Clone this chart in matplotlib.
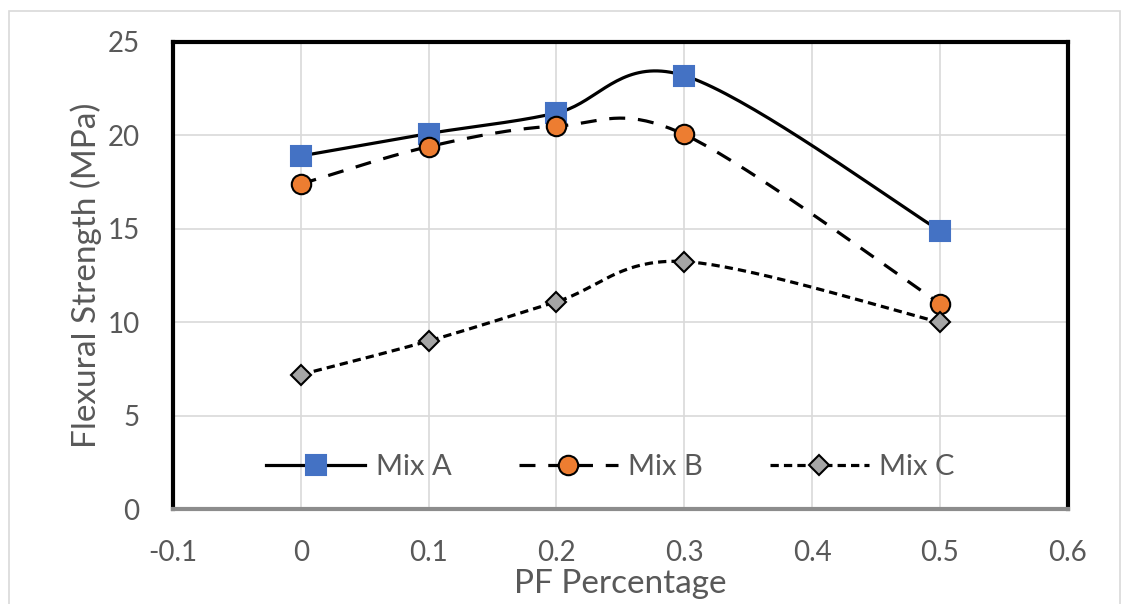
import numpy as np
import matplotlib.pyplot as plt
from matplotlib.patches import Rectangle

# data
pf = [0, 0.1, 0.2, 0.3, 0.5]
mix_a = [18.9, 20.1, 21.2, 23.2, 14.9]
mix_b = [17.4, 19.4, 20.5, 20.05, 11.0]
mix_c = [7.2, 9.0, 11.1, 13.25, 10.0]

x_ticks = [-0.1, 0, 0.1, 0.2, 0.3, 0.4, 0.5, 0.6]
x_tick_labels = ["-0.1", "0", "0.1", "0.2", "0.3", "0.4", "0.5", "0.6"]
y_ticks = [0, 5, 10, 15, 20, 25]

GREY = "#595959"
plt.rcParams['font.family'] = ['Lato', 'DejaVu Sans']


def smooth(x, y, n=40):
    # excel style smoothed line: catmull-rom as bezier segments
    x = np.asarray(x, float)
    y = np.asarray(y, float)
    px = np.concatenate([[x[0]], x, [x[-1]]])
    py = np.concatenate([[y[0]], y, [y[-1]]])
    xs, ys = [], []
    t = np.linspace(0, 1, n)
    for i in range(1, len(px) - 2):
        p0 = np.array([px[i], py[i]])
        p3 = np.array([px[i + 1], py[i + 1]])
        p1 = p0 + (np.array([px[i + 1], py[i + 1]]) - np.array([px[i - 1], py[i - 1]])) / 6
        p2 = p3 - (np.array([px[i + 2], py[i + 2]]) - np.array([px[i], py[i]])) / 6
        b = ((1 - t) ** 3)[:, None] * p0 + (3 * (1 - t) ** 2 * t)[:, None] * p1 \
            + (3 * (1 - t) * t ** 2)[:, None] * p2 + (t ** 3)[:, None] * p3
        xs.extend(b[:, 0])
        ys.extend(b[:, 1])
    return xs, ys


fig = plt.figure(figsize=(11.3, 6.04), dpi=100)
ax = fig.add_axes([0.153, 0.157, 0.792, 0.7735])

series = [
    ("Mix A", mix_a, '-', 's', "#4472C4", "#4472C4", 15),
    ("Mix B", mix_b, (0, (5, 4)), 'o', "#ED7D31", "black", 14),
    ("Mix C", mix_c, (0, (2.6, 1.6)), 'D', "#A5A5A5", "black", 10),
]
for name, vals, ls, mk, fc, ec, ms in series:
    sx, sy = smooth(pf, vals)
    ax.plot(sx, sy, color="black", lw=2.3, linestyle=ls, zorder=3)
    ax.plot(pf, vals, linestyle='none', marker=mk, markersize=ms,
            markerfacecolor=fc, markeredgecolor=ec, markeredgewidth=1.5, zorder=4)
    ax.plot([], [], color="black", lw=2.3, linestyle=ls, marker=mk, markersize=ms,
            markerfacecolor=fc, markeredgecolor=ec, markeredgewidth=1.5, label=name)

ax.set_xlim(-0.1, 0.6)
ax.set_ylim(0, 25)
ax.set_xticks(x_ticks)
ax.set_xticklabels(x_tick_labels)
ax.set_yticks(y_ticks)
ax.grid(True, color="#d9d9d9", lw=1.2)
ax.set_axisbelow(True)
ax.tick_params(length=0, labelsize=20, labelcolor=GREY)
ax.tick_params(axis='y', pad=24)
ax.tick_params(axis='x', pad=22)

for side in ['left', 'top', 'right']:
    ax.spines[side].set_color("black")
    ax.spines[side].set_linewidth(3)
ax.spines['bottom'].set_color("#8c8c8c")
ax.spines['bottom'].set_linewidth(3)

ax.set_xlabel("PF Percentage", fontsize=24, color=GREY, labelpad=2)
ax.set_ylabel("Flexural Strength (MPa)", fontsize=24, color=GREY, labelpad=4)

leg = ax.legend(loc='center', bbox_to_anchor=(0.489, 0.09), ncol=3, frameon=False,
                fontsize=21, handlelength=3.4, columnspacing=2.3, handletextpad=0.35)
for txt in leg.get_texts():
    txt.set_color(GREY)

fig.patches.append(Rectangle((9 / 1130, -0.1), (1120 - 9) / 1130, 1.1 - 11 / 604,
                             transform=fig.transFigure, fill=False,
                             edgecolor="#d9d9d9", lw=1.2))

fig.savefig("out.png", dpi=100)
